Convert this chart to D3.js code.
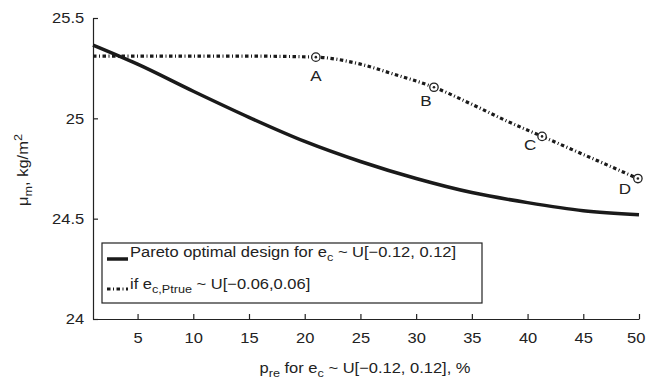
<!DOCTYPE html>
<html>
<head>
<meta charset="utf-8">
<script src="https://cdn.jsdelivr.net/npm/d3@7"></script>
<style>
  body { margin: 0; background: #fff; }
  text { font-family: "Liberation Sans", Arial, sans-serif; fill: #222; }
</style>
</head>
<body>
<div id="chart"></div>
<script>
// data
var paretoX = [1, 5, 10, 15, 20, 25, 30, 35, 40, 45, 50];
var paretoY = [25.365, 25.27, 25.135, 25.005, 24.885, 24.785, 24.70, 24.63, 24.58, 24.54, 24.52];

var trueX = [1, 5, 10, 15, 21, 25, 28, 31.6, 35, 38, 41.3, 45, 49.9];
var trueY = [25.31, 25.31, 25.31, 25.31, 25.305, 25.27, 25.22, 25.155, 25.07, 24.99, 24.91, 24.82, 24.70];

var markLabels = ["A", "B", "C", "D"];
var markX = [21, 31.6, 41.3, 49.9];
var markY = [25.305, 25.155, 24.91, 24.70];
// where each letter sits relative to its circle
var labelDx = [0, -8, -12, -13];
var labelDy = [23.5, 18.5, 13.5, 15.5];

var xTicks = [5, 10, 15, 20, 25, 30, 35, 40, 45, 50];
var yTicks = [24, 24.5, 25, 25.5];

var svgWidth = 647, svgHeight = 382;
var margin = {top: 18, right: 8, bottom: 63, left: 93};
var width = svgWidth - margin.left - margin.right;
var height = svgHeight - margin.top - margin.bottom;
var fs = "15px", sub = "11.5px", sx = 1.1;   // the original type is set wide

var svg = d3.select("#chart").append("svg")
  .attr("width", svgWidth)
  .attr("height", svgHeight);

var g = svg.append("g")
  .attr("transform", `translate(${margin.left}, ${margin.top})`);

var x = d3.scaleLinear().domain([1, 50]).range([0, width]);
var y = d3.scaleLinear().domain([24, 25.5]).range([height, 0]);

// axes, ticks pointing inward
var xAxis = g.append("g")
  .attr("transform", `translate(0, ${height})`)
  .call(d3.axisBottom(x).tickValues(xTicks).tickSizeInner(-5).tickSizeOuter(0).tickPadding(13).tickFormat(d3.format("d")));
var yAxis = g.append("g")
  .call(d3.axisLeft(y).tickValues(yTicks).tickSizeInner(-5).tickSizeOuter(0).tickPadding(8).tickFormat(d => String(d)));

[xAxis, yAxis].forEach(function(a) {
  a.selectAll("path, line").attr("stroke", "#222").attr("stroke-width", 1.2);
  a.selectAll("text")
    .style("font-size", fs)
    .style("font-family", "Liberation Sans, Arial, sans-serif")
    .attr("fill", "#222")
    .attr("transform", `scale(${sx},1)`);
});
// last label sits right at the page edge
xAxis.selectAll("text").filter(d => d === 50).attr("dx", -3);

var line = d3.line().curve(d3.curveMonotoneX)
  .x(d => x(d[0])).y(d => y(d[1]));

g.append("path")
  .datum(paretoX.map((v, i) => [v, paretoY[i]]))
  .attr("d", line)
  .attr("fill", "none")
  .attr("stroke", "#1a1a1a")
  .attr("stroke-width", 3.5);

g.append("path")
  .datum(trueX.map((v, i) => [v, trueY[i]]))
  .attr("d", line)
  .attr("fill", "none")
  .attr("stroke", "#1a1a1a")
  .attr("stroke-width", 3.2)
  .attr("stroke-dasharray", "3.5,2.5,1,2.5");

// marked designs
var marks = g.selectAll(".mark")
  .data(markLabels)
  .enter().append("g")
  .attr("class", "mark")
  .attr("transform", (d, i) => `translate(${x(markX[i])}, ${y(markY[i])})`);
marks.append("circle").attr("r", 4.2).attr("fill", "#fff").attr("stroke", "#222").attr("stroke-width", 1.3);
marks.append("circle").attr("r", 1.3).attr("fill", "#222");
marks.append("text")
  .attr("transform", (d, i) => `translate(${labelDx[i]}, ${labelDy[i]}) scale(${sx},1)`)
  .attr("text-anchor", "middle")
  .style("font-size", "15.5px")
  .text(d => d);

// axis titles
var xt = svg.append("text")
  .attr("transform", `translate(365, 373) scale(${sx},1)`)
  .attr("text-anchor", "middle")
  .style("font-size", fs);
xt.append("tspan").text("p");
xt.append("tspan").attr("dy", 4).style("font-size", sub).text("re");
xt.append("tspan").attr("dy", -4).text(" for e");
xt.append("tspan").attr("dy", 4).style("font-size", sub).text("c");
xt.append("tspan").attr("dy", -4).text(" ~ U[\u22120.12, 0.12], %");

var yt = svg.append("text")
  .attr("transform", `translate(28, 170) rotate(-90) scale(${sx},1)`)
  .attr("text-anchor", "middle")
  .style("font-size", fs);
yt.append("tspan").text("\u03bc");
yt.append("tspan").attr("dy", 4).style("font-size", sub).text("m");
yt.append("tspan").attr("dy", -4).text(", kg/m");
yt.append("tspan").attr("dy", -6).style("font-size", sub).text("2");

// legend
var leg = svg.append("g");
leg.append("rect")
  .attr("x", 102).attr("y", 243).attr("width", 380).attr("height", 60)
  .attr("fill", "#fff").attr("stroke", "#222").attr("stroke-width", 1.2);
leg.append("line").attr("x1", 107).attr("x2", 128).attr("y1", 259).attr("y2", 259)
  .attr("stroke", "#1a1a1a").attr("stroke-width", 3.5);
leg.append("line").attr("x1", 107).attr("x2", 128).attr("y1", 289).attr("y2", 289)
  .attr("stroke", "#1a1a1a").attr("stroke-width", 3.2).attr("stroke-dasharray", "3.5,2.5,1,2.5");
var l1 = leg.append("text").attr("transform", `translate(130, 257) scale(${sx},1)`).style("font-size", fs);
l1.append("tspan").text("Pareto optimal design for e");
l1.append("tspan").attr("dy", 4).style("font-size", sub).text("c");
l1.append("tspan").attr("dy", -4).text(" ~ U[\u22120.12, 0.12]");
var l2 = leg.append("text").attr("transform", `translate(130, 289) scale(${sx},1)`).style("font-size", fs);
l2.append("tspan").text("if e");
l2.append("tspan").attr("dy", 4).style("font-size", sub).text("c,Ptrue");
l2.append("tspan").attr("dy", -4).text(" ~ U[\u22120.06,0.06]");
</script>
</body>
</html>
